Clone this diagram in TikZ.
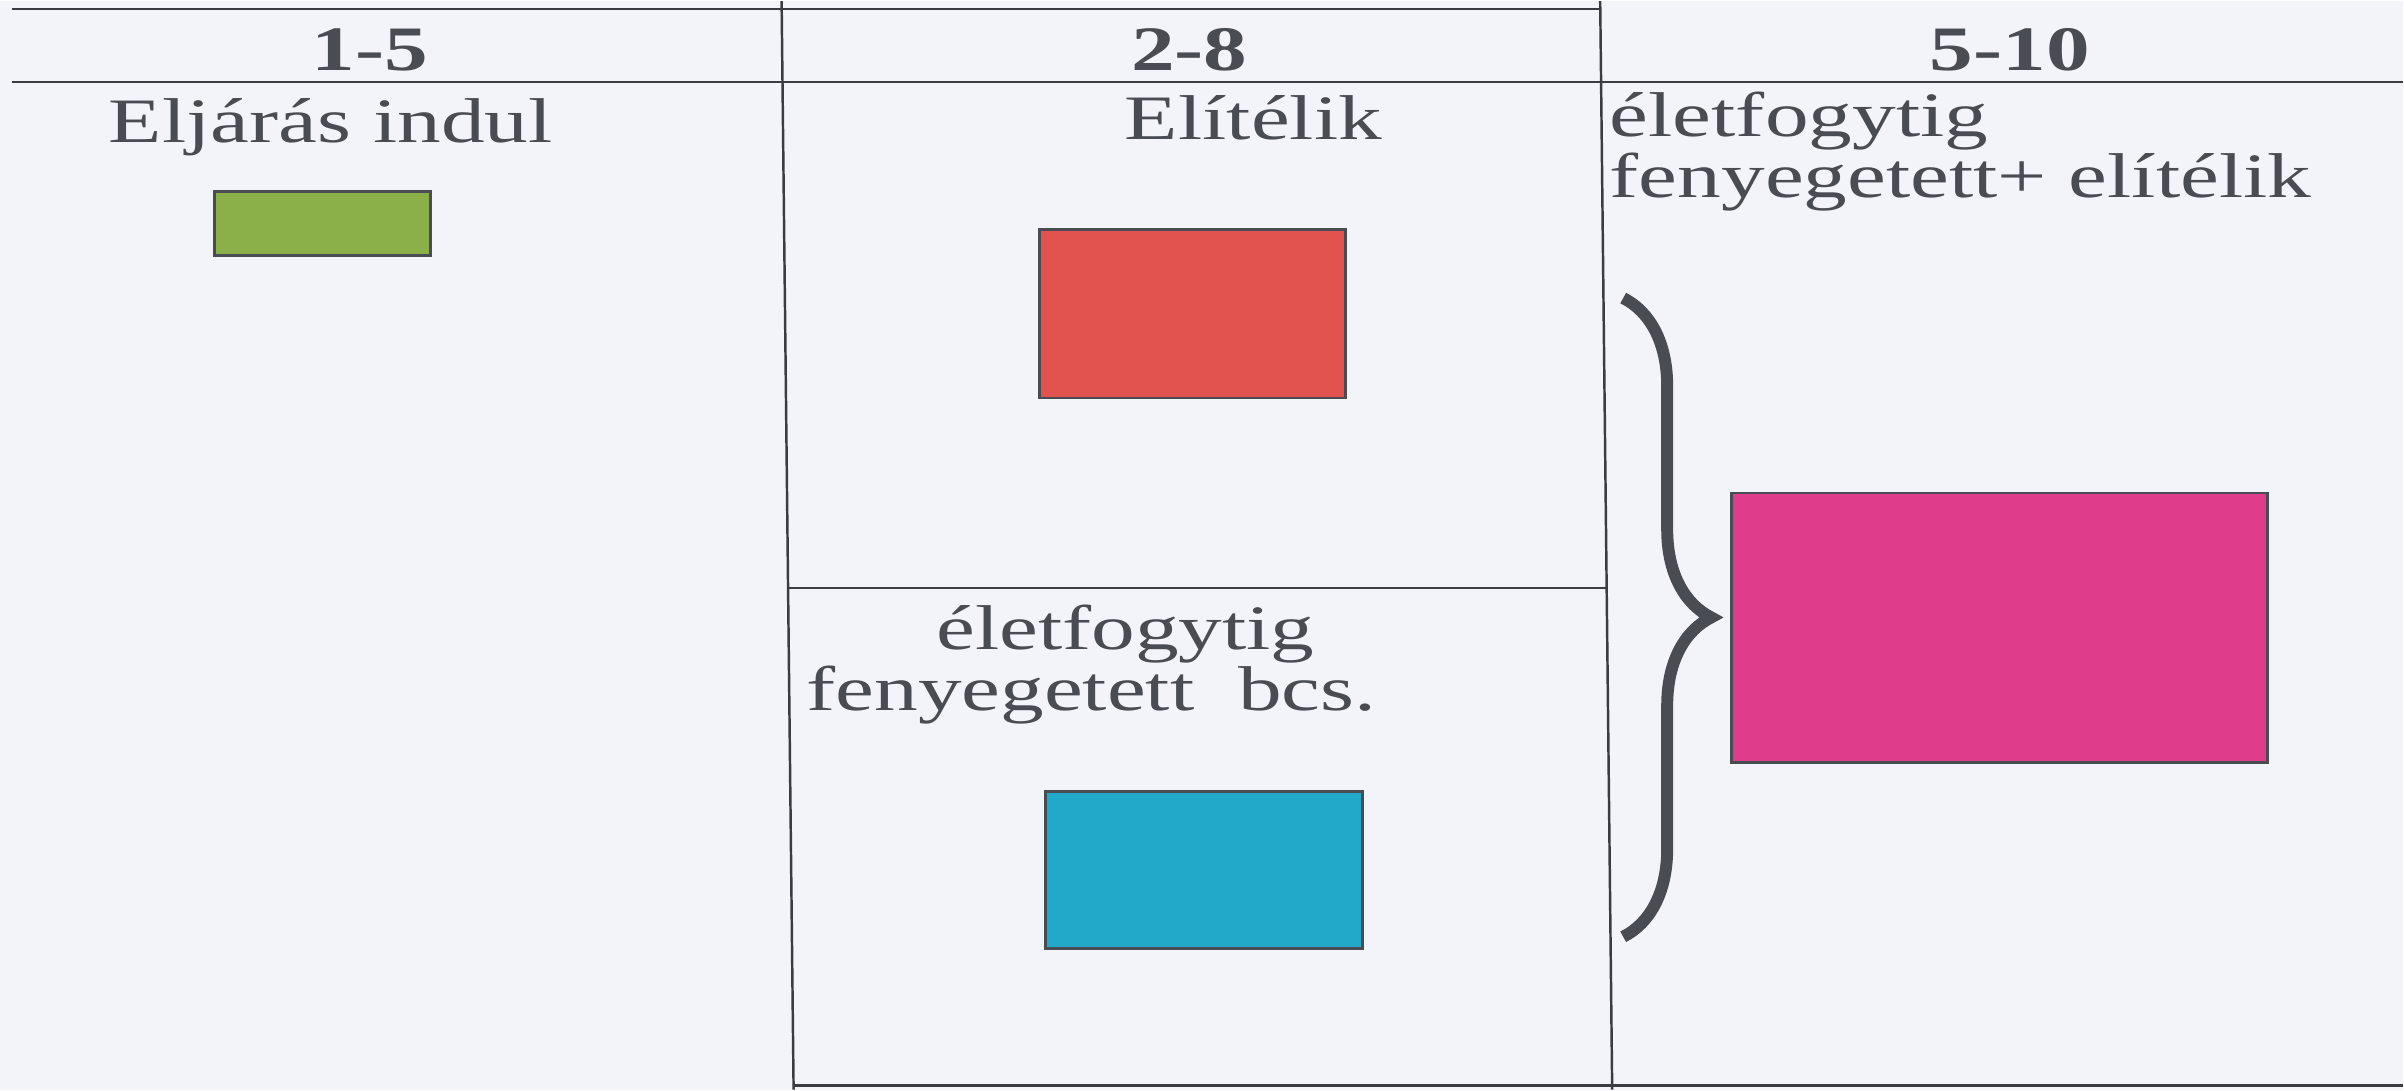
\documentclass[tikz,border=0pt]{standalone}
\usepackage{fontspec}
\setmainfont{Liberation Serif}
\usepackage{xcolor}
\definecolor{paper}{HTML}{F2F4F9}
\definecolor{ink}{HTML}{4A4C54}
\definecolor{rule}{HTML}{3A3C42}
\definecolor{grass}{HTML}{8BB04A}
\definecolor{brick}{HTML}{E2534F}
\definecolor{sky}{HTML}{22A9C9}
\definecolor{rose}{HTML}{E03C8C}
\usetikzlibrary{decorations.pathreplacing}
\newcommand{\widetxt}[1]{\scalebox{1.38}[1]{#1}}

\begin{document}
\begin{tikzpicture}[x=0.01cm, y=-0.01cm,
  cell/.style={draw=rule, line width=0.7pt},
  head/.style={text=ink, anchor=base, inner sep=0pt, font=\fontsize{18}{21}\selectfont\bfseries},
  txt/.style={text=ink, anchor=base, inner sep=0pt, font=\fontsize{18}{21}\selectfont},
  swatch/.style={draw=ink, line width=0.8pt}]
  % Page
  \fill[paper] (0,0) rectangle (2404,1089);

  % Table rules
  \draw[cell] (12,8) -- (1601,8);
  \draw[cell] (12,81) -- (2404,81);
  \draw[cell] (782,0) -- (794,1089);
  \draw[cell] (1601,0) -- (1613,1089);
  \draw[cell] (788,587) -- (1607,587);
  \draw[cell] (793,1085) -- (2404,1085);

  % Column 1
  \node[head] (h1) at (370,69) {\widetxt{1-5}};
  \node[txt] (start) at (331,141) {\widetxt{Eljárás indul}};
  \draw[swatch, fill=grass] (215,190) rectangle (431,254);

  % Column 2
  \node[head] (h2) at (1190,69) {\widetxt{2-8}};
  \node[txt] (verdict) at (1254,138) {\widetxt{Elítélik}};
  \draw[swatch, fill=brick] (1040,228) rectangle (1346,397);
  \node[txt] (lifea) at (1126,649) {\widetxt{életfogytig}};
  \node[txt] (lifeb) at (1092,710) {\widetxt{fenyegetett\ \ bcs.}};
  \draw[swatch, fill=sky] (1046,791) rectangle (1363,948);

  % Column 3
  \node[head] (h3) at (2011,69) {\widetxt{5-10}};
  \node[txt, anchor=base west] (botha) at (1610,135) {\widetxt{életfogytig}};
  \node[txt, anchor=base west] (bothb) at (1610,196) {\widetxt{fenyegetett+ elítélik}};
  \draw[ink, line width=3.4pt, decorate, decoration={brace, amplitude=0.88cm}] (1624,297) -- (1624,936);
  \draw[swatch, fill=rose] (1732,492) rectangle (2269,762);
\end{tikzpicture}
\end{document}
